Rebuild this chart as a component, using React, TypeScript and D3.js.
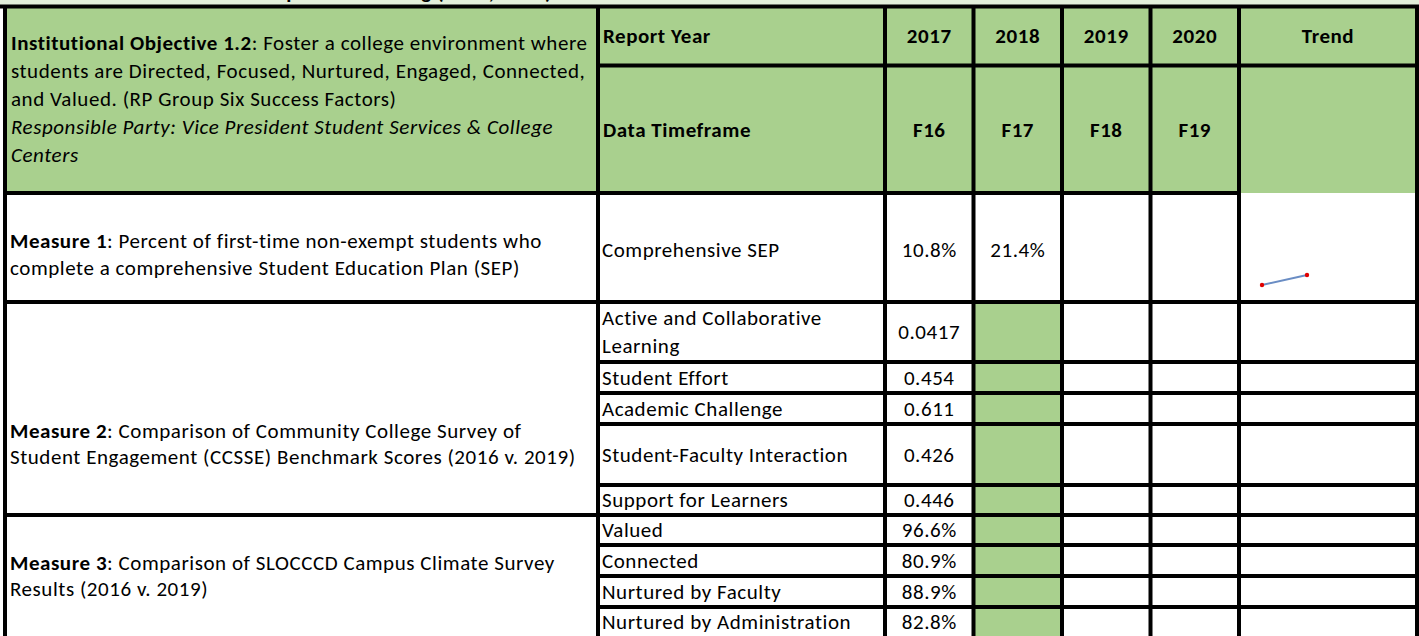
import React from 'react';
import * as d3 from 'd3';

// ---------- data ----------
const reportYears = ['2017', '2018', '2019', '2020'];
const dataTimeframes = ['F16', 'F17', 'F18', 'F19'];

const measure1Labels = [['Comprehensive SEP']];
const measure1Values: (number | null)[] = [10.8, 21.4, null, null];

const measure2Labels = [
  ['Active and Collaborative', 'Learning'],
  ['Student Effort'],
  ['Academic Challenge'],
  ['Student-Faculty Interaction'],
  ['Support for Learners'],
];
const measure2Values2017 = [0.0417, 0.454, 0.611, 0.426, 0.446];

const measure3Labels = [['Valued'], ['Connected'], ['Nurtured by Faculty'], ['Nurtured by Administration']];
const measure3Values2017 = [96.6, 80.9, 88.9, 82.8];

// ---------- layout / style ----------
const W = 1419;
const H = 636;
const FONT = "Carlito, Calibri, Lato, sans-serif";
const FS = 21;
const LS = 0.55;
const GREEN = '#a9d08e';
const LIGHT_GREEN = '#e2efda';
const LW = 4;

const xLeft = 5;
const xSplit = 598;
const xTrend = 1239;
const xRight = 1417;
const yTop = 6.5;
const yHeadMid = 65.5;
const yHeadBottom = 193;
const rowEdges = [193, 302, 362, 393, 424, 485, 515, 545, 576, 607, 642];

const yearScale = d3.scaleBand<string>().domain(reportYears).range([885, xTrend]);

type Seg = { t: string; b?: boolean; i?: boolean };

function TextLine({ x, y, segs, anchor = 'start', size = FS }: { x: number; y: number; segs: Seg[]; anchor?: string; size?: number }) {
  return (
    <text x={x} y={y} dy="0.35em" textAnchor={anchor as any} fontFamily={FONT} fontSize={size} letterSpacing={LS} fill="#000">
      {segs.map((s, k) => (
        <tspan key={k} fontWeight={s.b ? 700 : 400} fontStyle={s.i ? 'italic' : 'normal'}>{s.t}</tspan>
      ))}
    </text>
  );
}

export default function App() {
  const fmtPct = (v: number) => d3.format('.1f')(v) + '%';

  const body: { labels: string[]; v: (string | null)[] }[] = [];
  measure1Labels.forEach((l) => body.push({ labels: l, v: measure1Values.map((d) => (d == null ? null : fmtPct(d))) }));
  measure2Labels.forEach((l, i) => body.push({ labels: l, v: [String(measure2Values2017[i]), null, null, null] }));
  measure3Labels.forEach((l, i) => body.push({ labels: l, v: [fmtPct(measure3Values2017[i]), null, null, null] }));

  const sx = d3.scalePoint<string>().domain(reportYears).range([1262, 1397]);
  const m1defined = measure1Values.map((v, i) => ({ k: reportYears[i], v })).filter((d) => d.v != null) as { k: string; v: number }[];
  const sy = d3.scaleLinear().domain(d3.extent(m1defined, (d) => d.v) as [number, number]).range([285, 275]);
  const spark = d3.line<{ k: string; v: number }>().x((d) => sx(d.k)!).y((d) => sy(d.v));

  const headerLeft: Seg[][] = [
    [{ t: 'Institutional Objective 1.2', b: true }, { t: ': Foster a college environment where' }],
    [{ t: 'students are Directed, Focused, Nurtured, Engaged, Connected,' }],
    [{ t: 'and Valued. (RP Group Six Success Factors)' }],
    [{ t: 'Responsible Party: Vice President Student Services & College', i: true }],
    [{ t: 'Centers', i: true }],
  ];

  const measureTexts: { lines: Seg[][]; y0: number; step: number }[] = [
    {
      lines: [
        [{ t: 'Measure 1', b: true }, { t: ': Percent of first-time non-exempt students who' }],
        [{ t: 'complete a comprehensive Student Education Plan (SEP)' }],
      ],
      y0: 241,
      step: 27,
    },
    {
      lines: [
        [{ t: 'Measure 2', b: true }, { t: ': Comparison of Community College Survey of' }],
        [{ t: 'Student Engagement (CCSSE) Benchmark Scores (2016 v. 2019)' }],
      ],
      y0: 431,
      step: 26,
    },
    {
      lines: [
        [{ t: 'Measure 3', b: true }, { t: ': Comparison of SLOCCCD Campus Climate Survey' }],
        [{ t: 'Results (2016 v. 2019)' }],
      ],
      y0: 563,
      step: 26,
    },
  ];

  const fullLines = [rowEdges[1], rowEdges[6]];
  const yearEdges = reportYears.map((y) => yearScale(y)!).concat([xTrend]);

  return (
    <svg width={W} height={H} style={{ position: 'fixed', left: 0, top: 0, background: '#fff' }}>
      <defs>
        <clipPath id="topclip">
          <rect x={0} y={0} width={W} height={5} />
        </clipPath>
      </defs>
      <rect x={0} y={0} width={W} height={H} fill="#fff" />
      {/* top strip */}
      <rect x={0} y={0} width={W} height={6} fill={LIGHT_GREEN} />
      <g clipPath="url(#topclip)">
        <text x={552} y={-1} textAnchor="end" fontFamily={FONT} fontSize={FS} letterSpacing={LS} fontWeight={700} fill="#000">
          Student Success and Development Planning (2017, 2020)
        </text>
      </g>
      {/* header fill */}
      <rect x={xLeft} y={yTop} width={xRight - xLeft} height={yHeadBottom - yTop} fill={GREEN} />
      {/* 2018 column green for measures 2 & 3 */}
      <rect x={yearScale('2018')!} y={rowEdges[1]} width={yearScale.bandwidth()} height={rowEdges[rowEdges.length - 1] - rowEdges[1]} fill={GREEN} />

      {/* header texts */}
      {headerLeft.map((segs, i) => (
        <TextLine key={i} x={11} y={43 + i * 28} segs={segs} />
      ))}
      <TextLine x={603} y={(yTop + yHeadMid) / 2} segs={[{ t: 'Report Year', b: true }]} />
      <TextLine x={603} y={(yHeadMid + yHeadBottom) / 2} segs={[{ t: 'Data Timeframe', b: true }]} />
      {reportYears.map((y) => (
        <TextLine key={y} x={yearScale(y)! + yearScale.bandwidth() / 2} y={(yTop + yHeadMid) / 2} anchor="middle" segs={[{ t: y, b: true }]} />
      ))}
      {dataTimeframes.map((f, i) => (
        <TextLine key={f} x={yearScale(reportYears[i])! + yearScale.bandwidth() / 2} y={(yHeadMid + yHeadBottom) / 2} anchor="middle" segs={[{ t: f, b: true }]} />
      ))}
      <TextLine x={(xTrend + xRight) / 2} y={(yTop + yHeadMid) / 2} anchor="middle" segs={[{ t: 'Trend', b: true }]} />

      {/* measure texts */}
      {measureTexts.map((m, j) =>
        m.lines.map((segs, i) => <TextLine key={j + '-' + i} x={10} y={m.y0 + i * m.step} segs={segs} />)
      )}

      {/* body rows */}
      {body.map((r, i) => {
        const y0 = rowEdges[i];
        const y1 = rowEdges[i + 1];
        const cy = (y0 + y1) / 2 + (i === body.length - 1 ? -3 : 0) + (i === 0 ? 2 : 0);
        const n = r.labels.length;
        return (
          <g key={i}>
            {r.labels.map((l, k) => (
              <TextLine key={k} x={602} y={cy + (k - (n - 1) / 2) * 28} segs={[{ t: l }]} />
            ))}
            {r.v.map((v, k) =>
              v == null ? null : (
                <TextLine key={'v' + k} x={yearScale(reportYears[k])! + yearScale.bandwidth() / 2} y={cy} anchor="middle" segs={[{ t: v }]} />
              )
            )}
          </g>
        );
      })}

      {/* sparkline */}
      <path d={spark(m1defined) || ''} fill="none" stroke="#6a8dc4" strokeWidth={1.8} />
      {m1defined.map((d) => (
        <circle key={d.k} cx={sx(d.k)!} cy={sy(d.v)} r={2.2} fill="#e00000" />
      ))}

      {/* grid lines */}
      <g stroke="#000" strokeWidth={LW}>
        <line x1={0} x2={W} y1={yTop} y2={yTop} />
        <line x1={xSplit} x2={xRight} y1={yHeadMid} y2={yHeadMid} />
        <line x1={xLeft - 2} x2={xTrend + 2} y1={yHeadBottom} y2={yHeadBottom} />
        {rowEdges.slice(1, -1).map((y, i) => (
          <line key={i} x1={fullLines.includes(y) ? xLeft - 2 : xSplit} x2={xRight} y1={y} y2={y} />
        ))}
        <line x1={xLeft} x2={xLeft} y1={yTop} y2={H + 4} />
        <line x1={xSplit} x2={xSplit} y1={yTop} y2={H + 4} />
        {yearEdges.map((x, i) => (
          <line key={i} x1={x} x2={x} y1={yTop} y2={H + 4} />
        ))}
        <line x1={xRight} x2={xRight} y1={yTop} y2={H + 4} />
      </g>
    </svg>
  );
}
